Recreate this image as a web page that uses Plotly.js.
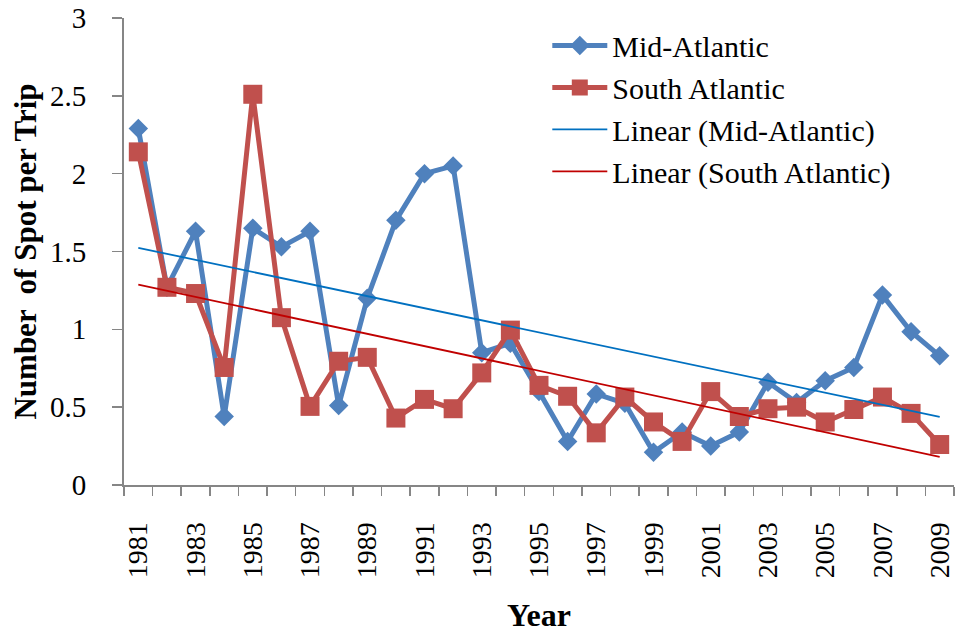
<!DOCTYPE html>
<html>
<head>
<meta charset="utf-8">
<script src="https://cdn.plot.ly/plotly-3.0.1.min.js"></script>
<style>html,body{margin:0;padding:0;background:#fff;}#chart{width:959px;height:633px;}</style>
</head>
<body>
<div id="chart"></div>
<script>
const years = [1981,1982,1983,1984,1985,1986,1987,1988,1989,1990,1991,1992,1993,1994,1995,1996,1997,1998,1999,2000,2001,2002,2003,2004,2005,2006,2007,2008,2009];
const midAtlantic = [2.29,1.27,1.63,0.44,1.65,1.53,1.63,0.51,1.20,1.70,2.00,2.05,0.85,0.91,0.60,0.28,0.585,0.525,0.21,0.34,0.25,0.34,0.66,0.53,0.67,0.755,1.22,0.985,0.83];
const southAtlantic = [2.14,1.27,1.23,0.755,2.51,1.075,0.505,0.795,0.82,0.43,0.55,0.49,0.72,0.995,0.64,0.57,0.335,0.565,0.405,0.28,0.60,0.44,0.49,0.50,0.405,0.485,0.565,0.46,0.26];
const xTickLabels = ['1981','1983','1985','1987','1989','1991','1993','1995','1997','1999','2001','2003','2005','2007','2009'];

function linearFit(xs, ys){
  const n = xs.length;
  let sx=0, sy=0, sxx=0, sxy=0;
  for(let i=0;i<n;i++){sx+=xs[i];sy+=ys[i];sxx+=xs[i]*xs[i];sxy+=xs[i]*ys[i];}
  const b=(n*sxy-sx*sy)/(n*sxx-sx*sx);
  const a=(sy-b*sx)/n;
  return xs.map(x=>a+b*x);
}

const serif = '"Liberation Serif", "Times New Roman", serif';
const traces = [
  {x: years, y: midAtlantic, name: 'Mid-Atlantic', type: 'scatter', mode: 'lines+markers',
   line: {color: '#4F81BD', width: 5}, marker: {symbol: 'diamond', size: 15, color: '#4F81BD'}},
  {x: years, y: southAtlantic, name: 'South Atlantic', type: 'scatter', mode: 'lines+markers',
   line: {color: '#C0504D', width: 5}, marker: {symbol: 'square', size: 19, color: '#C0504D'}},
  {x: years, y: linearFit(years, midAtlantic), name: 'Linear (Mid-Atlantic)', type: 'scatter', mode: 'lines',
   line: {color: '#0070C0', width: 1.8}},
  {x: years, y: linearFit(years, southAtlantic), name: 'Linear (South Atlantic)', type: 'scatter', mode: 'lines',
   line: {color: '#C00000', width: 1.8}}
];

const layout = {
  width: 959, height: 633,
  margin: {l: 124, r: 5, t: 18, b: 148},
  paper_bgcolor: '#fff', plot_bgcolor: '#fff',
  font: {family: serif, color: '#000', size: 28},
  showlegend: true,
  legend: {x: 0.51, y: 0.997, xanchor: 'left', yanchor: 'top', bgcolor: 'rgba(0,0,0,0)',
           font: {family: serif, size: 30, color: '#000'}, tracegroupgap: 0, itemwidth: 55},
  xaxis: {
    range: [1980.5, 2009.5], showgrid: false, zeroline: false,
    showline: true, linecolor: '#868686', linewidth: 2,
    tickmode: 'array', tickvals: xTickLabels.map(Number), ticktext: xTickLabels,
    ticks: '', tickangle: -90, ticklabelstandoff: 24,
    tickfont: {family: serif, size: 28, color: '#000'},
    minor: {tick0: 1980.5, dtick: 1, ticks: 'outside', ticklen: 9, tickcolor: '#868686', tickwidth: 1.5, showgrid: false},
    title: {text: '<b>Year</b>', font: {family: serif, size: 32, color: '#000'}, standoff: 26}
  },
  yaxis: {
    range: [0, 3], dtick: 0.5, tick0: 0, showgrid: false, zeroline: false,
    showline: true, linecolor: '#868686', linewidth: 2,
    ticks: 'outside', ticklen: 10, tickcolor: '#868686', tickwidth: 1.5, ticklabelstandoff: 20,
    tickfont: {family: serif, size: 29, color: '#000'},
    title: {text: '<b>Number  of Spot per Trip</b>', font: {family: serif, size: 31, color: '#000'}, standoff: 4}
  }
};

Plotly.newPlot('chart', traces, layout, {displayModeBar: false, staticPlot: true});
</script>
</body>
</html>
